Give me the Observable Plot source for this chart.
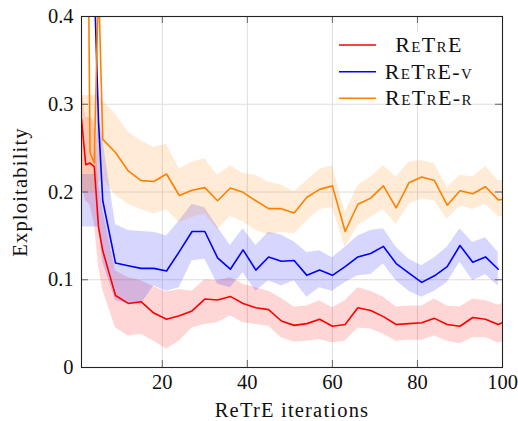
<!DOCTYPE html>
<html>
<head>
<meta charset="utf-8">
<script src="https://cdn.jsdelivr.net/npm/d3@7"></script>
<script src="https://cdn.jsdelivr.net/npm/@observablehq/plot@0.6"></script>
<style>
  html, body { margin: 0; padding: 0; background: #fff; }
  #chart svg { display: block; }
</style>
</head>
<body>
<div id="chart"></div>
<script>
// ---- data ----
const iters = [1,2,3,4,5,6,9,12,15,18,21,24,27,30,33,36,39,42,45,48,51,54,57,60,63,66,69,72,75,78,81,84,87,90,93,96,99,100];

const seriesNames = ["ReTrE", "ReTrE-v", "ReTrE-r"];
const seriesColors = ["#ff0000", "#0000ff", "#ff8000"];

const retreMean = [0.283,0.231,0.233,0.229,0.160,0.133,0.082,0.073,0.075,0.062,0.055,0.059,0.0645,0.078,0.077,0.081,0.073,0.068,0.066,0.053,0.048,0.050,0.055,0.047,0.049,0.068,0.065,0.058,0.049,0.050,0.051,0.056,0.049,0.047,0.057,0.055,0.049,0.051];
const retreLo   = [0.205,0.190,0.185,0.165,0.115,0.088,0.045,0.036,0.038,0.030,0.021,0.030,0.045,0.049,0.051,0.059,0.051,0.049,0.047,0.034,0.029,0.030,0.032,0.028,0.030,0.045,0.044,0.038,0.030,0.031,0.031,0.036,0.030,0.027,0.034,0.034,0.028,0.029];
const retreHi   = [0.320,0.285,0.285,0.280,0.210,0.180,0.110,0.1025,0.099,0.092,0.086,0.089,0.087,0.100,0.099,0.1025,0.095,0.091,0.087,0.079,0.069,0.070,0.076,0.068,0.076,0.091,0.087,0.080,0.069,0.070,0.070,0.078,0.070,0.069,0.078,0.076,0.071,0.073];

const retreVMean = [1.2,1.0,0.8,0.44,0.28,0.19,0.119,0.116,0.113,0.113,0.110,0.132,0.155,0.155,0.125,0.112,0.134,0.111,0.126,0.121,0.122,0.105,0.111,0.105,0.115,0.126,0.130,0.138,0.1185,0.1075,0.097,0.1045,0.115,0.139,0.120,0.126,0.112,null];
const retreVLo   = [0.16,0.16,0.16,0.16,0.16,0.12,0.076,0.073,0.072,0.093,0.087,0.091,0.1216,0.1235,0.095,0.091,0.108,0.087,0.099,0.093,0.099,0.080,0.091,0.087,0.097,0.1045,0.106,0.118,0.099,0.087,0.080,0.087,0.097,0.120,0.099,0.106,0.093,null];
const retreVHi   = [0.22,0.22,0.22,0.22,0.29,0.26,0.163,0.156,0.155,0.154,0.150,0.167,0.186,0.182,0.160,0.139,0.158,0.139,0.154,0.151,0.143,0.131,0.133,0.125,0.137,0.150,0.156,0.158,0.137,0.1235,0.116,0.125,0.137,0.158,0.1425,0.148,0.131,null];

const retreRMean = [1.0,0.82,0.245,0.233,0.44,0.26,0.245,0.224,0.213,0.212,0.2205,0.196,0.202,0.205,0.190,0.2046,0.1996,0.190,0.181,0.181,0.176,0.194,0.203,0.207,0.155,0.186,0.193,0.207,0.182,0.2105,0.217,0.213,0.185,0.2015,0.198,0.206,0.191,0.1915];
const retreRLo   = [0.20,0.20,0.20,0.20,0.21,0.215,0.196,0.186,0.180,0.175,0.180,0.165,0.171,0.175,0.157,0.172,0.166,0.156,0.151,0.154,0.152,0.167,0.180,0.182,0.137,0.1615,0.171,0.180,0.163,0.186,0.192,0.190,0.169,0.184,0.180,0.186,0.172,0.172];
const retreRHi   = [0.31,0.31,0.31,0.31,0.31,0.304,0.289,0.268,0.258,0.251,0.254,0.226,0.234,0.238,0.219,0.230,0.221,0.219,0.211,0.208,0.200,0.213,0.226,0.230,0.177,0.207,0.217,0.230,0.217,0.234,0.236,0.232,0.205,0.219,0.217,0.229,0.213,0.213];

const xTickValues = [20, 40, 60, 80, 100];
const yTickValues = [0, 0.1, 0.2, 0.3, 0.4];
const xGridValues = [20, 40, 60, 80];
const yGridValues = [0.1, 0.2, 0.3];
const xLabel = "ReTrE iterations";
const yLabel = "Exploitability";

// ---- build tables ----
const means = [retreMean, retreVMean, retreRMean];
const los = [retreLo, retreVLo, retreRLo];
const his = [retreHi, retreVHi, retreRHi];
const tables = seriesNames.map((name, s) =>
  iters.map((x, i) => ({x, y: means[s][i], lo: los[s][i], hi: his[s][i], name}))
       .filter(d => d.y != null)
);

const W = 518, H = 421, mL = 81, mR = 16, mT = 16, mB = 54;
const frameW = W - mL - mR, frameH = H - mT - mB;
const tickLen = 7;
const font = "'Liberation Serif', serif";

const marks = [
  Plot.ruleX(xGridValues, {stroke: "#dedede", strokeWidth: 1}),
  Plot.ruleY(yGridValues, {stroke: "#dedede", strokeWidth: 1}),
];
tables.forEach((t, s) => {
  marks.push(Plot.areaY(t, {x: "x", y1: "lo", y2: "hi", fill: seriesColors[s], fillOpacity: 0.16, clip: true}));
});
tables.forEach((t, s) => {
  marks.push(Plot.lineY(t, {x: "x", y: "y", stroke: seriesColors[s], strokeWidth: 1.6, clip: true}));
});
marks.push(
  Plot.ruleX(xGridValues, {insetTop: frameH - tickLen, stroke: "#666", strokeWidth: 1}),
  Plot.ruleX(xGridValues, {insetBottom: frameH - tickLen, stroke: "#666", strokeWidth: 1}),
  Plot.ruleY(yGridValues, {insetRight: frameW - tickLen, stroke: "#666", strokeWidth: 1}),
  Plot.ruleY(yGridValues, {insetLeft: frameW - tickLen, stroke: "#666", strokeWidth: 1}),
  Plot.frame({stroke: "#222", strokeWidth: 1.1}),
  Plot.axisX(xTickValues, {tickSize: 0, tickPadding: 7, label: null, fontSize: 20.5, fontFamily: font, fill: "#111"}),
  Plot.axisY(yTickValues, {tickSize: 0, tickPadding: 8, label: null, fontSize: 20.5, fontFamily: font, fill: "#111", tickFormat: d => d === 0 ? "0" : d3.format(".1f")(d)}),
  Plot.text([xLabel], {frameAnchor: "bottom", dy: 43, text: d => d, fontSize: 20.5, fontFamily: font, fill: "#111", lineAnchor: "middle", textAnchor: "middle"}),
  Plot.text([yLabel], {frameAnchor: "left", dx: -61, rotate: -90, text: d => d, fontSize: 20.5, fontFamily: font, fill: "#111", lineAnchor: "middle", textAnchor: "middle"})
);

const chart = Plot.plot({
  width: W, height: H,
  marginLeft: mL, marginRight: mR, marginTop: mT, marginBottom: mB,
  x: {domain: [1, 100]},
  y: {domain: [0, 0.4]},
  style: {fontFamily: font, fontSize: "20px", background: "white", color: "#111"},
  marks
});

// letter spacing for the two axis titles (wider Computer Modern look)
d3.select(chart).selectAll("text").filter(function() { return this.textContent === xLabel || this.textContent === yLabel; })
  .style("letter-spacing", "1.2px");

// ---- legend (inside plot, top right) ----
const svg = d3.select(chart);
const lg = svg.append("g").attr("font-family", font);
lg.append("rect").attr("x", 334).attr("y", 32).attr("width", 163).attr("height", 71).attr("fill", "white");
const rowY = [45, 71.7, 98.3];
seriesNames.forEach((name, i) => {
  lg.append("line").attr("x1", 339).attr("x2", 376).attr("y1", rowY[i]).attr("y2", rowY[i])
    .attr("stroke", seriesColors[i]).attr("stroke-width", 1.6);
  lg.append("text").attr("x", 429).attr("y", rowY[i] + 7).attr("text-anchor", "middle")
    .attr("font-size", 22).attr("fill", "#111").style("font-variant", "small-caps")
    .style("letter-spacing", "1.4px").text(name);
});

document.getElementById("chart").appendChild(chart);
</script>
</body>
</html>
